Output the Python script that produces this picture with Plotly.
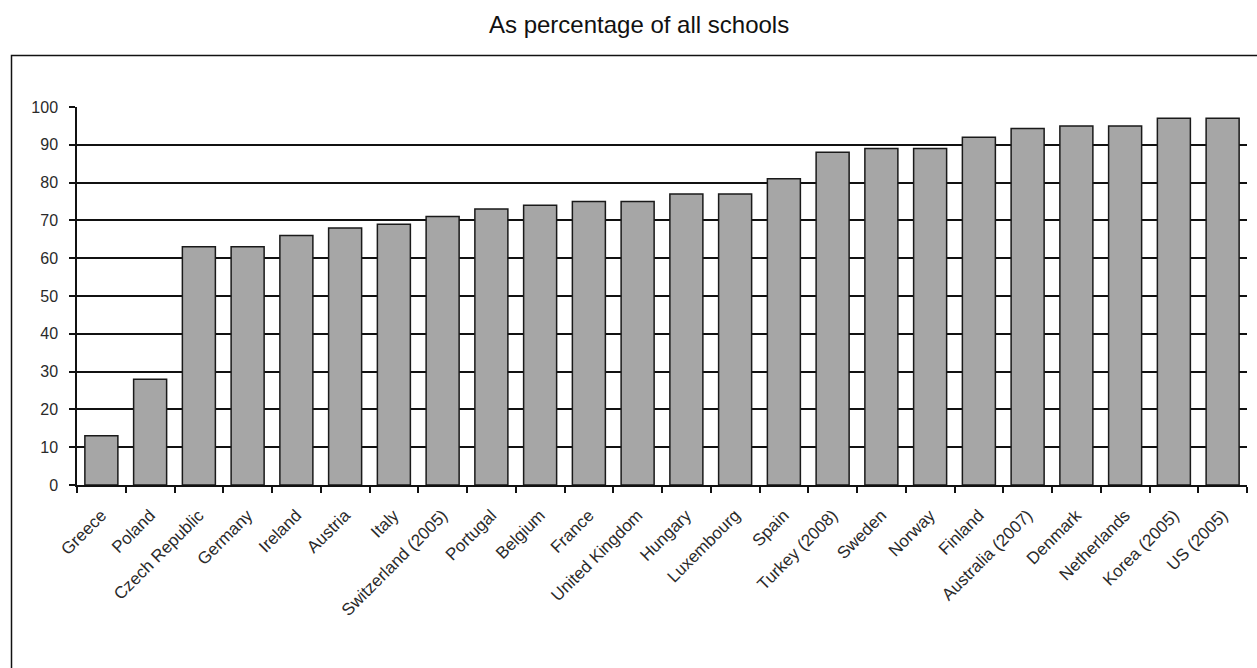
import plotly.graph_objects as go

countries = ["Greece", "Poland", "Czech Republic", "Germany", "Ireland", "Austria", "Italy",
             "Switzerland (2005)", "Portugal", "Belgium", "France", "United Kingdom", "Hungary",
             "Luxembourg", "Spain", "Turkey (2008)", "Sweden", "Norway", "Finland",
             "Australia (2007)", "Denmark", "Netherlands", "Korea (2005)", "US (2005)"]
values = [13, 28, 63, 63, 66, 68, 69, 71, 73, 74, 75, 75, 77, 77, 81, 88, 89, 89, 92,
          94.3, 95, 95, 97, 97]
y_ticks = [0, 10, 20, 30, 40, 50, 60, 70, 80, 90, 100]
title_text = "As percentage of all schools"

W, H = 1257, 668
L, R, T, B = 77, 10, 107, 183
pw, ph = W - L - R, H - T - B

def px_x(x):
    return (x - L) / pw

def px_y(y):
    return (H - B - y) / ph

FONT = "Liberation Sans, Arial, sans-serif"

fig = go.Figure(go.Bar(
    x=countries, y=values,
    marker=dict(color="#a6a6a6", line=dict(color="#1a1a1a", width=1.5)),
    hoverinfo="x+y",
))

fig.update_layout(
    width=W, height=H,
    margin=dict(l=L, r=R, t=T, b=B, autoexpand=False),
    paper_bgcolor="white", plot_bgcolor="white",
    bargap=0.323,
    showlegend=False,
    font=dict(family=FONT, size=16, color="#222"),
    xaxis=dict(
        type="category", range=[-0.5, len(countries) - 0.5],
        showline=True, linecolor="#111", linewidth=1.5,
        ticks="outside", tickson="boundaries", ticklen=6, tickwidth=1.5, tickcolor="#111",
        tickangle=-45, showgrid=False, zeroline=False,
        tickfont=dict(family=FONT, size=17, color="#2a2a2a"),
        ticklabelstandoff=12,
    ),
    yaxis=dict(
        range=[0, 100], tickvals=y_ticks,
        showline=True, linecolor="#111", linewidth=1.5,
        ticks="outside", ticklen=6, tickwidth=1.5, tickcolor="#111",
        showgrid=True, gridcolor="#111", gridwidth=1.5, zeroline=False,
        tickfont=dict(family=FONT, size=16, color="#2a2a2a"),
        ticklabelstandoff=8,
    ),
    shapes=[dict(
        type="rect", xref="paper", yref="paper",
        x0=px_x(11.5), x1=px_x(1265), y0=px_y(700), y1=px_y(55.5),
        line=dict(color="#111", width=1.5), fillcolor="rgba(0,0,0,0)", layer="below",
    )],
    annotations=[dict(
        text=title_text, xref="paper", yref="paper",
        x=px_x(639), y=px_y(25), xanchor="center", yanchor="middle",
        showarrow=False, font=dict(family=FONT, size=24, color="#111"),
    )],
)

fig.write_html("out.html")
